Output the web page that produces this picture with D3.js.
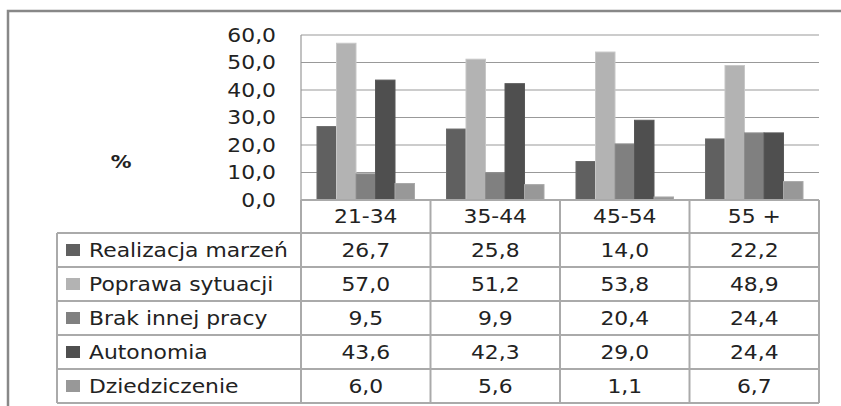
<!DOCTYPE html>
<html><head><meta charset="utf-8">
<script src="https://cdn.jsdelivr.net/npm/d3@7"></script>
<style>html,body{margin:0;padding:0;background:#fff;}svg{display:block;}</style>
</head><body>
<svg id="c" width="841" height="406"></svg>
<script>
const categories = ["21-34", "35-44", "45-54", "55 +"];
const seriesNames = ["Realizacja marzeń", "Poprawa sytuacji", "Brak innej pracy", "Autonomia", "Dziedziczenie"];
const realizacja = [26.7, 25.8, 14.0, 22.2];
const poprawa = [57.0, 51.2, 53.8, 48.9];
const brak = [9.5, 9.9, 20.4, 24.4];
const autonomia = [43.6, 42.3, 29.0, 24.4];
const dziedziczenie = [6.0, 5.6, 1.1, 6.7];
const yTicks = [0, 10, 20, 30, 40, 50, 60];
const colors = ["#606060", "#b3b3b3", "#808080", "#4f4f4f", "#989898"];

const seriesValues = [realizacja, poprawa, brak, autonomia, dziedziczenie];
const fmt = v => d3.format(".1f")(v).replace(".", ",");
const font = "DejaVu Sans";
const SX = 1.15;

const svg = d3.select("#c");
function label(parent, x, yy, txt, anchor, size, weight) {
  return parent.append("text")
    .attr("transform", `translate(${x},${yy}) scale(${SX},1)`)
    .attr("dy", "0.35em").attr("text-anchor", anchor || "start")
    .attr("font-family", font).attr("font-size", size || 19)
    .attr("font-weight", weight || "normal").attr("fill", "#222").text(txt);
}

// outer frame (open right/bottom)
svg.append("path").attr("d", "M8,406 V11 H841").attr("fill", "none").attr("stroke", "#888").attr("stroke-width", 2.5);

const plot = {left: 301, right: 819, top: 35, bottom: 200};
const x0 = d3.scaleBand().domain(categories).range([plot.left, plot.right]).padding(0);
const x1 = d3.scaleBand().domain(d3.range(seriesNames.length)).range([0, x0.bandwidth()]).paddingInner(0).paddingOuter(0.82);
const y = d3.scaleLinear().domain([0, 60]).range([plot.bottom, plot.top]);

// gridlines
svg.append("g").selectAll("line").data(yTicks.filter(t => t > 0)).join("line")
  .attr("x1", plot.left).attr("x2", plot.right)
  .attr("y1", d => y(d)).attr("y2", d => y(d))
  .attr("stroke", "#999").attr("stroke-width", 1.2);
svg.append("line").attr("x1", plot.left).attr("x2", plot.left).attr("y1", plot.top).attr("y2", plot.bottom)
  .attr("stroke", "#999").attr("stroke-width", 1.2);

// y axis
const yAxis = d3.axisLeft(y).tickValues(yTicks).tickFormat(fmt).tickSize(0).tickPadding(0);
const ga = svg.append("g").attr("transform", "translate(276,0)").call(yAxis);
ga.select(".domain").remove();
ga.selectAll("text").attr("font-family", font).attr("font-size", 19).attr("fill", "#222")
  .attr("x", null).attr("transform", `scale(${SX},1)`);

// % label
label(svg, 121, 162, "%", "middle", 18, "bold");

// bars
const groups = svg.append("g").selectAll("g").data(categories).join("g")
  .attr("transform", d => `translate(${x0(d)},0)`);
groups.selectAll("rect").data((c, ci) => seriesValues.map((s, si) => ({si, v: s[ci]}))).join("rect")
  .attr("x", d => x1(d.si)).attr("width", x1.bandwidth())
  .attr("y", d => y(d.v)).attr("height", d => y(0) - y(d.v))
  .attr("fill", d => colors[d.si])
  .attr("stroke", d => d3.color(colors[d.si]).brighter(0.3)).attr("stroke-width", 1);

// table
const tbl = {left: 57, headerTop: 200, headerBottom: 233, rowH: 34};
const rowY = d3.scaleBand().domain(d3.range(seriesNames.length)).range([tbl.headerBottom, tbl.headerBottom + tbl.rowH * seriesNames.length]).padding(0);
const tg = svg.append("g");
const lineColor = "#aaa", lw = 2;
const bottom = rowY.range()[1];
tg.append("line").attr("x1", plot.left).attr("x2", plot.right).attr("y1", tbl.headerTop).attr("y2", tbl.headerTop).attr("stroke", lineColor).attr("stroke-width", lw);
d3.range(seriesNames.length + 1).forEach(i => {
  const yy = tbl.headerBottom + i * rowY.bandwidth();
  tg.append("line").attr("x1", tbl.left).attr("x2", plot.right).attr("y1", yy).attr("y2", yy).attr("stroke", lineColor).attr("stroke-width", lw);
});
tg.append("line").attr("x1", tbl.left).attr("x2", tbl.left).attr("y1", tbl.headerBottom).attr("y2", bottom).attr("stroke", lineColor).attr("stroke-width", lw);
categories.forEach(c => {
  tg.append("line").attr("x1", x0(c)).attr("x2", x0(c)).attr("y1", tbl.headerTop).attr("y2", bottom).attr("stroke", lineColor).attr("stroke-width", lw);
});
tg.append("line").attr("x1", plot.right).attr("x2", plot.right).attr("y1", tbl.headerTop).attr("y2", bottom).attr("stroke", lineColor).attr("stroke-width", lw);

// header labels
categories.forEach(c => label(tg, x0(c) + x0.bandwidth() / 2, (tbl.headerTop + tbl.headerBottom) / 2, c, "middle", 19));

// legend cells and values
seriesNames.forEach((name, si) => {
  const cy = rowY(si) + rowY.bandwidth() / 2;
  tg.append("rect").attr("x", 66).attr("y", cy - 6).attr("width", 14).attr("height", 12).attr("fill", colors[si]);
  label(tg, 89, cy, name, "start", 19);
  categories.forEach((c, ci) => label(tg, x0(c) + x0.bandwidth() / 2, cy, fmt(seriesValues[si][ci]), "middle", 19));
});
</script>
</body></html>
